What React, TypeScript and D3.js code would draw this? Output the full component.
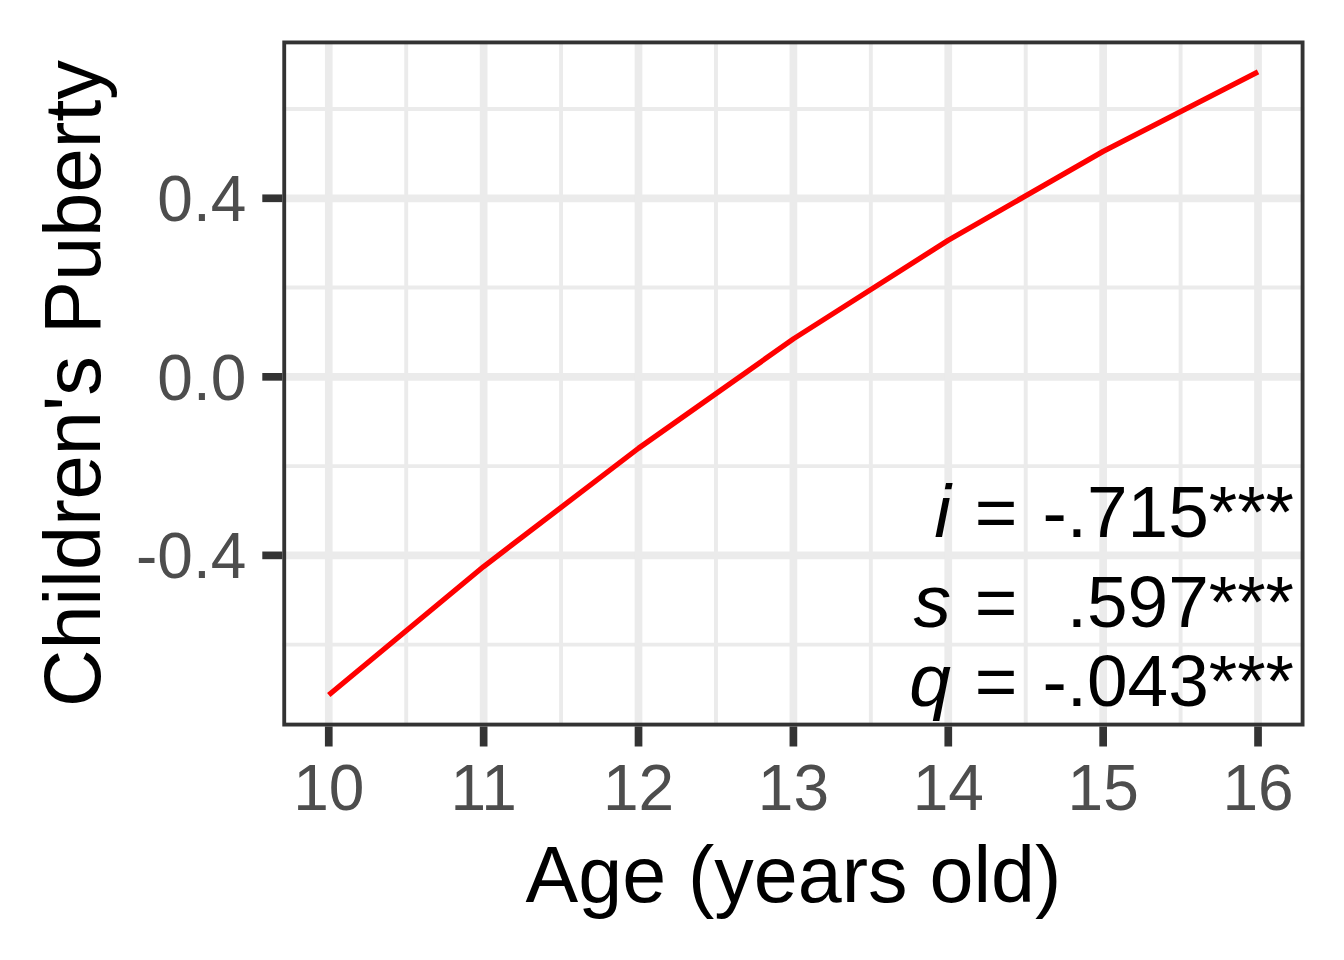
import React from "react";
import * as d3 from "d3";

const ages = [10, 11, 12, 13, 14, 15, 16];
const puberty = [-0.713, -0.425, -0.16, 0.085, 0.306, 0.505, 0.683];
const xTicks = [10, 11, 12, 13, 14, 15, 16];
const xMinor = [10.5, 11.5, 12.5, 13.5, 14.5, 15.5];
const yTicks = [-0.4, 0, 0.4];
const yTickLabels = ["-0.4", "0.0", "0.4"];
const yMinor = [-0.6, -0.2, 0.2, 0.6];
const annLetters = ["i", "s", "q"];
const annValues = ["-.715***", ".597***", "-.043***"];
const xTitle = "Age (years old)";
const yTitle = "Children's Puberty";

const W = 1344;
const H = 960;
const panel = { left: 282.3, right: 1304.5, top: 40.5, bottom: 726.5 };
const FONT = "'Liberation Sans', Arial, Helvetica, sans-serif";

export default function App() {
  const x = d3.scaleLinear().domain([9.7, 16.3]).range([panel.left, panel.right]);
  const y = d3.scaleLinear().domain([-0.7834, 0.7535]).range([panel.bottom, panel.top]);
  const line = d3
    .line<number>()
    .x((_, i) => x(ages[i]))
    .y((d) => y(d));
  const pts = puberty;
  const annBaselines = [536.7, 626.7, 706];
  const tickLen = 20;
  const gridCol = "#EBEBEB";
  return (
    <svg
      width={W}
      height={H}
      viewBox={`0 0 ${W} ${H}`}
      style={{ position: "absolute", left: 0, top: 0, background: "#fff" }}
    >
      <defs>
        <clipPath id="pclip">
          <rect x={panel.left} y={panel.top} width={panel.right - panel.left} height={panel.bottom - panel.top} />
        </clipPath>
      </defs>
      <rect x={0} y={0} width={W} height={H} fill="#fff" />
      <g clipPath="url(#pclip)">
        {yMinor.map((v) => (
          <line key={"ym" + v} x1={panel.left} x2={panel.right} y1={y(v)} y2={y(v)} stroke={gridCol} strokeWidth={3.9} />
        ))}
        {xMinor.map((v) => (
          <line key={"xm" + v} y1={panel.top} y2={panel.bottom} x1={x(v)} x2={x(v)} stroke={gridCol} strokeWidth={3.9} />
        ))}
        {yTicks.map((v) => (
          <line key={"yM" + v} x1={panel.left} x2={panel.right} y1={y(v)} y2={y(v)} stroke={gridCol} strokeWidth={7.7} />
        ))}
        {xTicks.map((v) => (
          <line key={"xM" + v} y1={panel.top} y2={panel.bottom} x1={x(v)} x2={x(v)} stroke={gridCol} strokeWidth={7.7} />
        ))}
        <path d={line(pts) || ""} fill="none" stroke="#FF0000" strokeWidth={5.3} strokeLinecap="butt" strokeLinejoin="round" />
        {annLetters.map((l, i) => (
          <g key={"ann" + i} fontFamily={FONT} fontSize={73} fill="#000">
            <text x={951} y={annBaselines[i]} textAnchor="end" fontStyle="italic" fontSize={75}>
              {l}
            </text>
            <text x={996} y={annBaselines[i]} textAnchor="middle">
              =
            </text>
            <text x={1294} y={annBaselines[i]} textAnchor="end">
              {annValues[i]}
            </text>
          </g>
        ))}
        <rect
          x={panel.left}
          y={panel.top}
          width={panel.right - panel.left}
          height={panel.bottom - panel.top}
          fill="none"
          stroke="#333333"
          strokeWidth={7.7}
        />
      </g>
      {yTicks.map((v, i) => (
        <g key={"yt" + v}>
          <line x1={panel.left - tickLen} x2={panel.left} y1={y(v)} y2={y(v)} stroke="#333333" strokeWidth={7.7} />
          <text x={panel.left - tickLen - 16} y={y(v) + 23} textAnchor="end" fontFamily={FONT} fontSize={64} fill="#4D4D4D">
            {yTickLabels[i]}
          </text>
        </g>
      ))}
      {xTicks.map((v) => (
        <g key={"xt" + v}>
          <line x1={x(v)} x2={x(v)} y1={panel.bottom} y2={panel.bottom + tickLen} stroke="#333333" strokeWidth={7.7} />
          <text x={x(v)} y={809.5} textAnchor="middle" fontFamily={FONT} fontSize={64} fill="#4D4D4D">
            {String(v)}
          </text>
        </g>
      ))}
      <text x={(panel.left + panel.right) / 2} y={902} textAnchor="middle" fontFamily={FONT} fontSize={79} fill="#000">
        {xTitle}
      </text>
      <text
        transform={`translate(100, ${(panel.top + panel.bottom) / 2}) rotate(-90)`}
        textAnchor="middle"
        fontFamily={FONT}
        fontSize={79.5}
        fill="#000"
      >
        {yTitle}
      </text>
    </svg>
  );
}
